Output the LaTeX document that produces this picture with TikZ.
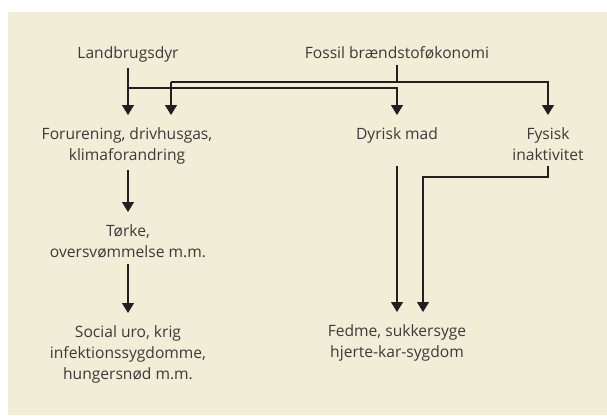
\documentclass[tikz,border=0pt]{standalone}
\usepackage{fontspec}
\setmainfont{Open Sans}
\usetikzlibrary{arrows.meta}
\definecolor{bgbeige}{HTML}{F1EDD6}
\definecolor{inkline}{HTML}{231F20}
\definecolor{inktext}{HTML}{3A3A3A}
\tikzset{
  lbl/.style={inner sep=0pt, align=center, anchor=north, text=inktext, font=\fontsize{15.6}{21}\selectfont},
  conn/.style={draw=inkline, line width=1.2pt, shorten <=6pt},
  arr/.style={conn, -{Triangle[width=12pt,length=10pt]}, shorten >=12pt}
}

\begin{document}
\begin{tikzpicture}[x=1pt, y=-1pt]
\useasboundingbox (0,0) rectangle (607,415);
\fill [bgbeige] (8,12) rectangle (607,415);

\node (L) at (128,46) [lbl] {Landbrugsdyr};
\node (Fo) at (397,46) [lbl] {Fossil brændstoføkonomi};
\node (F) at (127,127) [lbl] {Forurening, drivhusgas,\\klimaforandring};
\node (D) at (397,127) [lbl] {Dyrisk mad};
\node (Fy) at (548,127) [lbl] {Fysisk\\inaktivitet};
\node (T) at (128,224) [lbl] {Tørke,\\oversvømmelse m.m.};
\node (S) at (128,325) [lbl] {Social uro, krig\\infektionssygdomme,\\hungersnød m.m.};
\node (Fe) at (397,324) [lbl] {Fedme, sukkersyge\\hjerte-kar-sygdom};

\coordinate (cL) at (0,88);
\coordinate (cFo) at (171,82);
\coordinate (cFy) at (423,177);

% Landbrugsdyr
\draw [arr] (L.south) -- (L.south |- F.north);
\draw [arr, shorten <=0pt] (L.south |- cL) -| (D.north);

% Fossil braendstofokonomi
\draw [conn] (Fo.south) -- (Fo.south |- cFo);
\draw [arr, shorten <=0pt] (cFo) -- (cFo |- F.north);
\draw [arr, shorten <=0pt] (cFo) -| (Fy.north);

% kaeden til venstre
\draw [arr] (T.north |- F.south) -- (T.north);
\draw [arr] (T.south) -- (S.north);

% kaeden til hoejre
\draw [arr] (D.south |- Fy.south) -- (D.south |- Fe.north);
\draw [arr] (Fy.south) |- (cFy) -- (cFy |- Fe.north);
\end{tikzpicture}
\end{document}
